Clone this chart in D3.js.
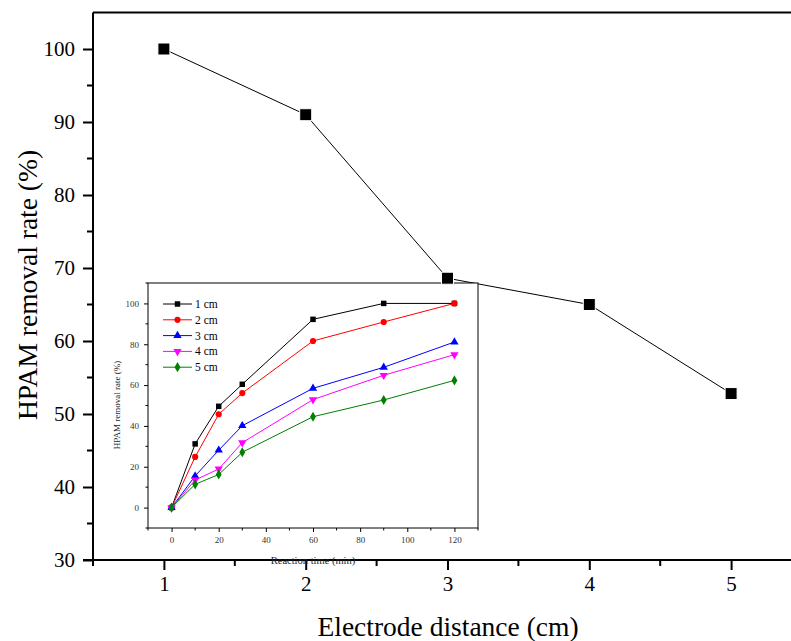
<!DOCTYPE html>
<html>
<head>
<meta charset="UTF-8">
<title>HPAM removal vs electrode distance</title>
<script src="https://cdn.jsdelivr.net/npm/d3@7"></script>
<style>
  body { margin: 0; background: #fff; }
  svg { display: block; }
  svg text { font-family: "Liberation Serif", "Times New Roman", serif; }
</style>
</head>
<body>
<svg id="chart" width="791" height="641"></svg>
<script>
// main chart: removal rate at 120 min vs electrode distance
var distances = [1, 2, 3, 4, 5];
var removal = [100, 91, 68.6, 65, 52.8];
var mainXTicks = [1, 2, 3, 4, 5];
var mainYTicks = [30, 40, 50, 60, 70, 80, 90, 100];

// inset: removal rate over time for each distance
var times = [0, 10, 20, 30, 60, 90, 120];
var seriesNames = ["1 cm", "2 cm", "3 cm", "4 cm", "5 cm"];
var cm1 = [0, 31.2, 49.6, 60.4, 92.2, 100, 100];
var cm2 = [0, 24.8, 45.7, 56.1, 81.6, 90.9, 100];
var cm3 = [0, 15.5, 28.1, 40.1, 58.4, 68.7, 81.1];
var cm4 = [0, 13.5, 18.9, 31.8, 52.9, 64.8, 74.9];
var cm5 = [0, 11.4, 16.2, 27.1, 44.5, 52.7, 62.3];
var insetXTicks = [0, 20, 40, 60, 80, 100, 120];
var insetYTicks = [0, 20, 40, 60, 80, 100];

var colors = ["#000000", "#ff0000", "#0000ff", "#ff00ff", "#008000"];
var symbols = [d3.symbolSquare, d3.symbolCircle, d3.symbolTriangle, "down", d3.symbolDiamond];

var svg = d3.select("#chart");

// ---- main plot ----
// x runs to 5.5, past the right edge of the picture
var x = d3.scaleLinear().domain([0.5, 5.5]).range([93, 802]);
var y = d3.scaleLinear().domain([30, 105]).range([560, 12.5]);

// top border
svg.append("line")
    .attr("x1", 93).attr("x2", 802)
    .attr("y1", 12.5).attr("y2", 12.5)
    .attr("stroke", "#000").attr("stroke-width", 2);

var xAxis = svg.append("g")
    .attr("transform", "translate(0,560)")
    .call(d3.axisBottom(x).tickValues(mainXTicks).tickSize(10).tickPadding(6).tickFormat(d3.format("d")));
xAxis.append("g").selectAll("line")
    .data([0.5, 1.5, 2.5, 3.5, 4.5])
    .enter().append("line")
    .attr("x1", d => x(d)).attr("x2", d => x(d))
    .attr("y1", 0).attr("y2", 6)
    .attr("stroke", "#000").attr("stroke-width", 2);

var yAxis = svg.append("g")
    .attr("transform", "translate(93,0)")
    .call(d3.axisLeft(y).tickValues(mainYTicks).tickSize(10).tickPadding(8));
yAxis.append("g").selectAll("line")
    .data([35, 45, 55, 65, 75, 85, 95])
    .enter().append("line")
    .attr("y1", d => y(d)).attr("y2", d => y(d))
    .attr("x1", 0).attr("x2", -6)
    .attr("stroke", "#000").attr("stroke-width", 2);

[xAxis, yAxis].forEach(function(a) {
    a.attr("font-family", null);
    a.select(".domain").attr("stroke-width", 2);
    a.selectAll(".tick line").attr("stroke-width", 2);
    a.selectAll(".tick text").attr("font-size", 21).attr("fill", "#000");
});
xAxis.select(".domain").attr("d", "M83,0H802");
yAxis.select(".domain").attr("d", "M0,12.5V560");

svg.append("text")
    .attr("x", 448).attr("y", 636)
    .attr("text-anchor", "middle")
    .attr("font-size", 27.5)
    .text("Electrode distance (cm)");

svg.append("text")
    .attr("transform", "translate(37,285) rotate(-90)")
    .attr("text-anchor", "middle")
    .attr("font-size", 27.5)
    .text("HPAM removal rate (%)");

var mainLine = d3.line().x((d, i) => x(distances[i])).y(d => y(d));
svg.append("path")
    .datum(removal)
    .attr("d", mainLine)
    .attr("fill", "none")
    .attr("stroke", "#000")
    .attr("stroke-width", 1);

// ---- inset ----
var ix = d3.scaleLinear().domain([-10, 130]).range([148, 478]);
var iy = d3.scaleLinear().domain([-10, 110]).range([528, 283]);

var inset = svg.append("g");
inset.append("rect")
    .attr("x", 148).attr("y", 283)
    .attr("width", 330).attr("height", 245)
    .attr("fill", "#fff").attr("stroke", "#000").attr("stroke-width", 1);

var ixAxis = inset.append("g")
    .attr("transform", "translate(0,528)")
    .call(d3.axisBottom(ix).tickValues(insetXTicks).tickSize(4).tickPadding(5));
ixAxis.append("g").selectAll("line")
    .data([-10, 10, 30, 50, 70, 90, 110, 130])
    .enter().append("line")
    .attr("x1", d => ix(d)).attr("x2", d => ix(d))
    .attr("y1", 0).attr("y2", 2.5)
    .attr("stroke", "#000");
var iyAxis = inset.append("g")
    .attr("transform", "translate(148,0)")
    .call(d3.axisLeft(iy).tickValues(insetYTicks).tickSize(4).tickPadding(5));
iyAxis.append("g").selectAll("line")
    .data([-10, 10, 30, 50, 70, 90, 110])
    .enter().append("line")
    .attr("y1", d => iy(d)).attr("y2", d => iy(d))
    .attr("x1", 0).attr("x2", -2.5)
    .attr("stroke", "#000");
[ixAxis, iyAxis].forEach(function(a) {
    a.attr("font-family", null);
    a.select(".domain").remove();
    a.selectAll(".tick text").attr("font-size", 9).attr("fill", "#333");
});

inset.append("text")
    .attr("x", 313).attr("y", 564)
    .attr("text-anchor", "middle")
    .attr("font-size", 10.5)
    .attr("fill", "#222")
    .text("Reaction time (min)");
inset.append("text")
    .attr("transform", "translate(120,405) rotate(-90)")
    .attr("text-anchor", "middle")
    .attr("font-size", 9)
    .attr("fill", "#222")
    .text("HPAM removal rate (%)");

function symbolPath(s, size) {
    if (s === "down") {
        return d3.symbol().type(d3.symbolTriangle).size(size)();
    }
    return d3.symbol().type(s).size(size)();
}

var insetSeries = [cm1, cm2, cm3, cm4, cm5];
var insetLine = d3.line().x((d, i) => ix(times[i])).y(d => iy(d));

insetSeries.forEach(function(vals, k) {
    inset.append("path")
        .datum(vals)
        .attr("d", insetLine)
        .attr("fill", "none")
        .attr("stroke", colors[k])
        .attr("stroke-width", 1);
});
insetSeries.forEach(function(vals, k) {
    var rot = symbols[k] === "down" ? " rotate(180)" : "";
    inset.append("g").selectAll("path")
        .data(vals)
        .enter().append("path")
        .attr("d", symbolPath(symbols[k], 30))
        .attr("transform", (d, i) => "translate(" + ix(times[i]) + "," + iy(d) + ")" + rot)
        .attr("fill", colors[k]);
});

// legend
var legend = inset.append("g");
seriesNames.forEach(function(name, k) {
    var ly = 304 + k * 15.8;
    var rot = symbols[k] === "down" ? " rotate(180)" : "";
    legend.append("line")
        .attr("x1", 163).attr("x2", 192)
        .attr("y1", ly).attr("y2", ly)
        .attr("stroke", colors[k]).attr("stroke-width", 1);
    legend.append("path")
        .attr("d", symbolPath(symbols[k], 30))
        .attr("transform", "translate(177.5," + ly + ")" + rot)
        .attr("fill", colors[k]);
    legend.append("text")
        .attr("x", 195).attr("y", ly + 4)
        .attr("font-size", 11.5)
        .text(name);
});

// main markers drawn last so they sit above the inset frame
svg.append("g").selectAll("rect")
    .data(removal)
    .enter().append("rect")
    .attr("x", (d, i) => x(distances[i]) - 6)
    .attr("y", d => y(d) - 6)
    .attr("width", 12).attr("height", 12)
    .attr("fill", "#000")
    .attr("stroke", "#fff").attr("stroke-width", 1);
</script>
</body>
</html>
